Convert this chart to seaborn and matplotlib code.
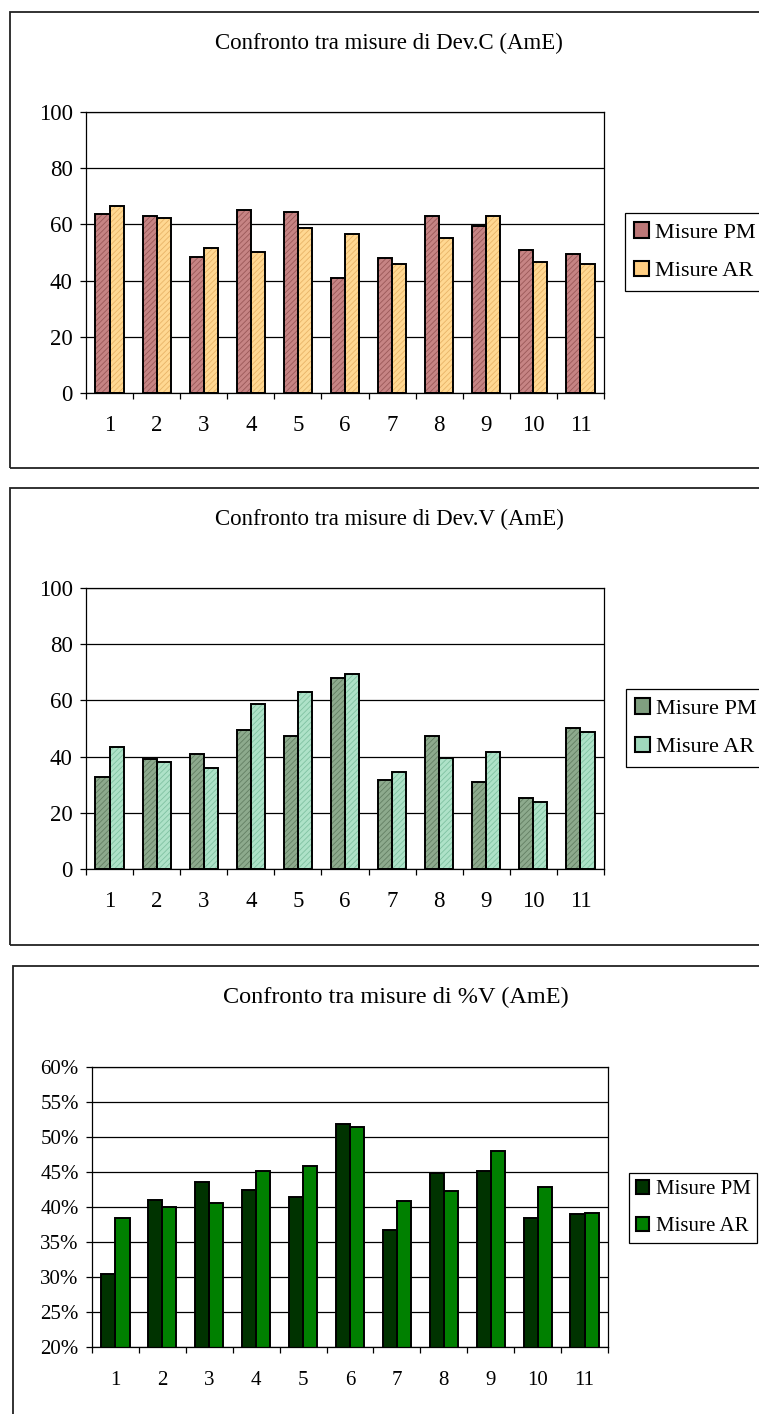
import numpy as np
import pandas as pd
import matplotlib
matplotlib.use("Agg")
import matplotlib.pyplot as plt
import seaborn as sns
from matplotlib.patches import Rectangle, Patch
from matplotlib.ticker import FuncFormatter

# ---------------- data ----------------
campioni = [str(i) for i in range(1, 12)]
serie = ["Misure PM", "Misure AR"]

devc_pm = [63.7, 63.0, 48.3, 65.1, 64.4, 41.0, 48.2, 63.0, 59.4, 51.0, 49.6]
devc_ar = [66.5, 62.4, 51.7, 50.3, 58.7, 56.6, 46.0, 55.3, 63.0, 46.7, 46.0]

devv_pm = [32.6, 39.0, 41.0, 49.6, 47.4, 68.0, 31.8, 47.4, 31.1, 25.4, 50.2]
devv_ar = [43.3, 38.2, 36.1, 58.7, 63.1, 69.5, 34.6, 39.6, 41.8, 24.0, 48.8]

pv_pm = [30.45, 40.95, 43.6, 42.4, 41.4, 51.8, 36.7, 44.9, 45.2, 38.5, 39.0]
pv_ar = [38.4, 39.95, 40.6, 45.2, 45.8, 51.5, 40.9, 42.3, 48.0, 42.9, 39.1]

titoli = ["Confronto tra misure di Dev.C (AmE)",
          "Confronto tra misure di Dev.V (AmE)",
          "Confronto tra misure di %V (AmE)"]

# ---------------- style ----------------
W, H = 759, 1414
sns.set_theme(style="ticks")
plt.rcParams['font.family'] = ['Liberation Serif', 'DejaVu Serif']
plt.rcParams['hatch.linewidth'] = 0.6

fig = plt.figure(figsize=(W / 100, H / 100), dpi=100)


def px_axes(l, t, r, b):
    return fig.add_axes([l / W, 1 - b / H, (r - l) / W, (b - t) / H])


def cornice(l, t, r, b):
    fig.patches.append(Rectangle((l / W, 1 - b / H), (r - l) / W, (b - t) / H,
                                 transform=fig.transFigure, fill=False,
                                 edgecolor="#222222", linewidth=1.3))


def pannello(ax, pm, ar, colori, tratteggio, ylim, yticks, fmt, titolo, tpos,
             tsize, ticksize, xpad, legpos, legsize, bpad, lspace):
    df = pd.DataFrame({
        "Campione": campioni * 2,
        "Serie": [serie[0]] * len(campioni) + [serie[1]] * len(campioni),
        "Valore": list(pm) + list(ar),
    })
    fills = [c[0] for c in colori]
    sns.barplot(data=df, x="Campione", y="Valore", hue="Serie",
                order=campioni, hue_order=serie, palette=fills, width=0.6,
                saturation=1, linewidth=0, errorbar=None, ax=ax, legend=False)
    if tratteggio:
        for cont, c in zip(ax.containers, colori):
            for bar in cont:
                bar.set_hatch(tratteggio)
                bar.set_edgecolor(c[1])
                bar.set_linewidth(0)
    sns.barplot(data=df, x="Campione", y="Valore", hue="Serie",
                order=campioni, hue_order=serie, palette=["black", "black"],
                width=0.6, fill=False, linewidth=1.4, errorbar=None, ax=ax,
                legend=False)

    ax.set_xlim(-0.5, len(campioni) - 0.5)
    ax.set_ylim(*ylim)
    ax.set_yticks(yticks)
    ax.yaxis.set_major_formatter(FuncFormatter(fmt))
    ax.set_axisbelow(True)
    ax.yaxis.grid(True, color="black", linewidth=0.9)
    ax.xaxis.grid(False)
    for s in ax.spines.values():
        s.set_visible(True)
        s.set_color("black")
        s.set_linewidth(0.9)
    ax.set_xlabel("")
    ax.set_ylabel("")
    ax.set_xticks(np.arange(-0.5, len(campioni), 1.0))
    ax.set_xticklabels([])
    ax.set_xticks(np.arange(len(campioni)), labels=campioni, minor=True)
    ax.tick_params(axis="x", which="major", bottom=True, length=4.5,
                   width=0.9, color="black", direction="out")
    ax.tick_params(axis="x", which="minor", bottom=True, length=0, pad=xpad,
                   labelsize=ticksize, labelcolor="black")
    ax.tick_params(axis="y", left=True, length=4.5, width=0.9,
                   color="black", direction="out", pad=5, labelsize=ticksize,
                   labelcolor="black")

    fig.text(tpos[0] / W, 1 - tpos[1] / H, titolo, ha="center", va="center",
             fontsize=tsize, color="black")

    handles = [Patch(facecolor=c[2], edgecolor="black", linewidth=1.5)
               for c in colori]
    leg = fig.legend(handles=handles, labels=serie, loc="upper left",
                     bbox_to_anchor=(legpos[0] / W, 1 - legpos[1] / H),
                     frameon=True, fancybox=False, framealpha=1,
                     edgecolor="black", fontsize=legsize, borderpad=bpad,
                     labelspacing=lspace, handlelength=0.65, handleheight=0.7,
                     handletextpad=0.3, borderaxespad=0)
    leg.get_frame().set_linewidth(0.9)
    for t in leg.get_texts():
        t.set_color("black")


cornice(10, 12, 775, 468)
cornice(10, 488, 775, 945)
cornice(13, 966, 775, 1425)

num = lambda v, p: f"{v:.0f}"
perc = lambda v, p: f"{v:.0f}%"

ax1 = px_axes(86, 112, 604, 393)
pannello(ax1, devc_pm, devc_ar,
         [("#C68484", "#9A5858", "#BC7777"), ("#FFD892", "#E8B468", "#FFCE82")],
         "//////", (0, 100), np.arange(0, 101, 20), num, titoli[0], (389, 43),
         16.5, 16.5, 15.5, (625, 213), 16, 0.42, 0.8)

ax2 = px_axes(86, 588, 604, 869)
pannello(ax2, devv_pm, devv_ar,
         [("#8DAA8D", "#637F63", "#809F80"), ("#AEE2C8", "#80C2A2", "#A0D8BC")],
         "//////", (0, 100), np.arange(0, 101, 20), num, titoli[1], (389, 519),
         16.5, 16.5, 15.5, (626, 689), 16, 0.42, 0.8)

ax3 = px_axes(92, 1067, 608, 1347)
pannello(ax3, pv_pm, pv_ar,
         [("#003300", "#003300", "#003300"), ("#008000", "#008000", "#008000")],
         None, (20, 60), np.arange(20, 61, 5), perc, titoli[2], (396, 997),
         17.5, 15, 17, (629, 1173), 15, 0.33, 0.82)

fig.savefig("out.png", dpi=100, facecolor="white")
